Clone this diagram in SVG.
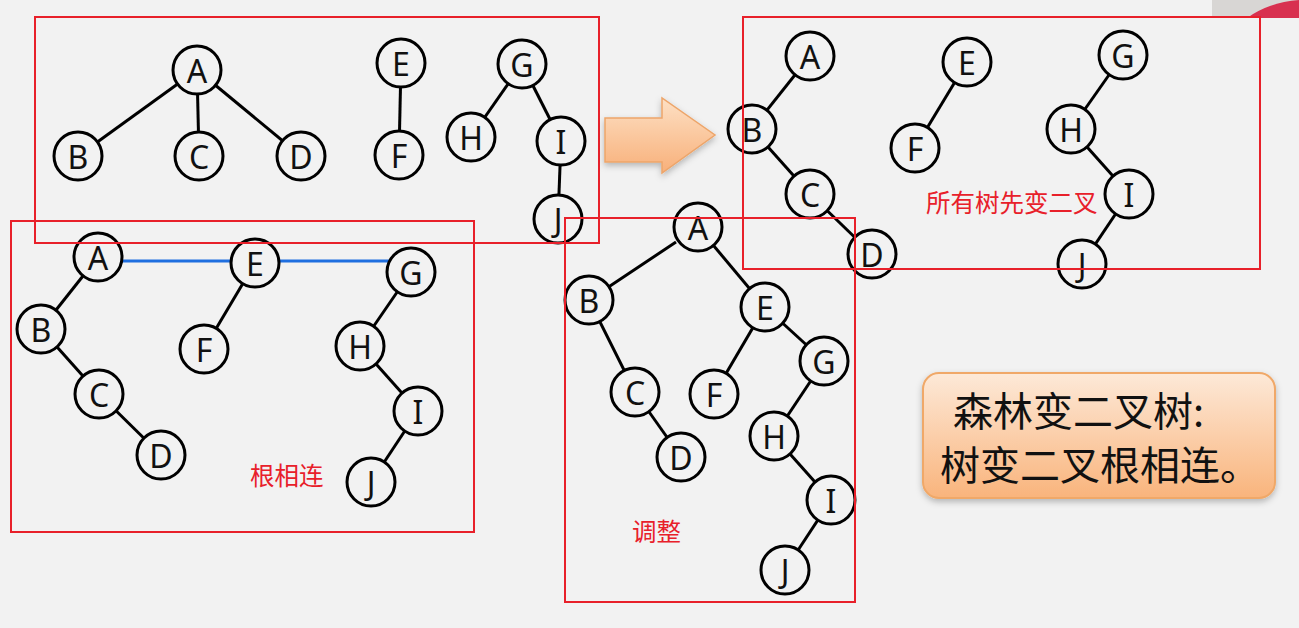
<svg xmlns="http://www.w3.org/2000/svg" width="1299" height="628" viewBox="0 0 1299 628">
<style>
.n circle{fill:#f2f2f2;stroke:#000;stroke-width:3}
.n text{font-family:"Noto Sans","Open Sans",sans-serif;font-size:32px;fill:#111;text-anchor:middle;dominant-baseline:central}
.e line{stroke:#000;stroke-width:3}
.e line.b{stroke:#1f6fe0;stroke-width:3}
.box{fill:none;stroke:#e8202a;stroke-width:2}
.lbl{font-family:"Noto Sans CJK SC","Noto Sans",sans-serif;font-size:24.5px;fill:#e8202a}
.big{font-family:"Noto Sans CJK SC","Noto Sans",sans-serif;font-size:40px;fill:#111}
</style>
<defs>
<linearGradient id="og" x1="0" y1="0" x2="0" y2="1"><stop offset="0" stop-color="#fde9d8"/><stop offset="1" stop-color="#f9b47c"/></linearGradient>
<linearGradient id="ag" x1="0" y1="0" x2="0" y2="1"><stop offset="0" stop-color="#fde0c4"/><stop offset="1" stop-color="#f8b07a"/></linearGradient>
<filter id="sh" x="-10%" y="-10%" width="120%" height="130%"><feDropShadow dx="0" dy="3" stdDeviation="3" flood-color="#000" flood-opacity="0.25"/></filter>
</defs>
<rect width="1299" height="628" fill="#f2f2f2"/>
<rect x="1212" y="0" width="87" height="18" fill="#d8d6d4"/>
<path d="M1247,18 Q1270,2 1299,0 L1299,18 Z" fill="#d8304f"/>
<g id="connectors" class="e">
<line x1="197" y1="70" x2="78" y2="156"/><line x1="197" y1="70" x2="199" y2="156"/><line x1="197" y1="70" x2="301" y2="156"/>
<line x1="401" y1="63" x2="399" y2="155"/><line x1="522" y1="64" x2="471" y2="137"/><line x1="522" y1="64" x2="561" y2="141"/><line x1="561" y1="141" x2="558" y2="219"/>
<line x1="98" y1="257" x2="41" y2="329"/><line x1="41" y1="329" x2="99" y2="394"/><line x1="99" y1="394" x2="161" y2="455"/>
<line x1="255" y1="263" x2="204" y2="349"/><line x1="411" y1="272" x2="360" y2="346"/><line x1="360" y1="346" x2="418" y2="411"/><line x1="418" y1="411" x2="371" y2="482"/>
<line class="b" x1="122" y1="261" x2="232" y2="261"/><line class="b" x1="278" y1="261" x2="390" y2="261"/>
<line x1="676" y1="242" x2="598" y2="294"/><line x1="698" y1="227" x2="765" y2="307"/><line x1="589" y1="300" x2="635" y2="392"/><line x1="635" y1="392" x2="681" y2="457"/>
<line x1="765" y1="307" x2="714" y2="394"/><line x1="765" y1="307" x2="824" y2="361"/><line x1="824" y1="361" x2="774" y2="436"/><line x1="774" y1="436" x2="831" y2="500"/><line x1="831" y1="500" x2="785" y2="570"/>
<line x1="810" y1="56" x2="752" y2="129"/><line x1="752" y1="129" x2="810" y2="194"/><line x1="810" y1="194" x2="872" y2="254"/>
<line x1="967" y1="62" x2="915" y2="148"/><line x1="1123" y1="55" x2="1071" y2="129"/><line x1="1071" y1="129" x2="1129" y2="194"/><line x1="1129" y1="194" x2="1082" y2="264"/>
</g>
<g id="t1-A" class="n"><circle cx="197" cy="70" r="24"/><text x="197" y="70">A</text></g>
<g id="t1-B" class="n"><circle cx="78" cy="156" r="24"/><text x="78" y="156">B</text></g>
<g id="t1-C" class="n"><circle cx="199" cy="156" r="24"/><text x="199" y="156">C</text></g>
<g id="t1-D" class="n"><circle cx="301" cy="156" r="24"/><text x="301" y="156">D</text></g>
<g id="t1-E" class="n"><circle cx="401" cy="63" r="24"/><text x="401" y="63">E</text></g>
<g id="t1-F" class="n"><circle cx="399" cy="155" r="24"/><text x="399" y="155">F</text></g>
<g id="t1-G" class="n"><circle cx="522" cy="64" r="24"/><text x="522" y="64">G</text></g>
<g id="t1-H" class="n"><circle cx="471" cy="137" r="24"/><text x="471" y="137">H</text></g>
<g id="t1-I" class="n"><circle cx="561" cy="141" r="24"/><text x="561" y="141">I</text></g>
<g id="t1-J" class="n"><circle cx="558" cy="219" r="24"/><text x="558" y="219">J</text></g>
<g id="t2-A" class="n"><circle cx="98" cy="257" r="24"/><text x="98" y="257">A</text></g>
<g id="t2-B" class="n"><circle cx="41" cy="329" r="24"/><text x="41" y="329">B</text></g>
<g id="t2-C" class="n"><circle cx="99" cy="394" r="24"/><text x="99" y="394">C</text></g>
<g id="t2-D" class="n"><circle cx="161" cy="455" r="24"/><text x="161" y="455">D</text></g>
<g id="t2-E" class="n"><circle cx="255" cy="263" r="24"/><text x="255" y="263">E</text></g>
<g id="t2-F" class="n"><circle cx="204" cy="349" r="24"/><text x="204" y="349">F</text></g>
<g id="t2-G" class="n"><circle cx="411" cy="272" r="24"/><text x="411" y="272">G</text></g>
<g id="t2-H" class="n"><circle cx="360" cy="346" r="24"/><text x="360" y="346">H</text></g>
<g id="t2-I" class="n"><circle cx="418" cy="411" r="24"/><text x="418" y="411">I</text></g>
<g id="t2-J" class="n"><circle cx="371" cy="482" r="24"/><text x="371" y="482">J</text></g>
<g id="t3-A" class="n"><circle cx="698" cy="227" r="24"/><text x="698" y="227">A</text></g>
<g id="t3-B" class="n"><circle cx="589" cy="300" r="24"/><text x="589" y="300">B</text></g>
<g id="t3-C" class="n"><circle cx="635" cy="392" r="24"/><text x="635" y="392">C</text></g>
<g id="t3-D" class="n"><circle cx="681" cy="457" r="24"/><text x="681" y="457">D</text></g>
<g id="t3-E" class="n"><circle cx="765" cy="307" r="24"/><text x="765" y="307">E</text></g>
<g id="t3-F" class="n"><circle cx="714" cy="394" r="24"/><text x="714" y="394">F</text></g>
<g id="t3-G" class="n"><circle cx="824" cy="361" r="24"/><text x="824" y="361">G</text></g>
<g id="t3-H" class="n"><circle cx="774" cy="436" r="24"/><text x="774" y="436">H</text></g>
<g id="t3-I" class="n"><circle cx="831" cy="500" r="24"/><text x="831" y="500">I</text></g>
<g id="t3-J" class="n"><circle cx="785" cy="570" r="24"/><text x="785" y="570">J</text></g>
<g id="t4-A" class="n"><circle cx="810" cy="56" r="24"/><text x="810" y="56">A</text></g>
<g id="t4-B" class="n"><circle cx="752" cy="129" r="24"/><text x="752" y="129">B</text></g>
<g id="t4-C" class="n"><circle cx="810" cy="194" r="24"/><text x="810" y="194">C</text></g>
<g id="t4-D" class="n"><circle cx="872" cy="254" r="24"/><text x="872" y="254">D</text></g>
<g id="t4-E" class="n"><circle cx="967" cy="62" r="24"/><text x="967" y="62">E</text></g>
<g id="t4-F" class="n"><circle cx="915" cy="148" r="24"/><text x="915" y="148">F</text></g>
<g id="t4-G" class="n"><circle cx="1123" cy="55" r="24"/><text x="1123" y="55">G</text></g>
<g id="t4-H" class="n"><circle cx="1071" cy="129" r="24"/><text x="1071" y="129">H</text></g>
<g id="t4-I" class="n"><circle cx="1129" cy="194" r="24"/><text x="1129" y="194">I</text></g>
<g id="t4-J" class="n"><circle cx="1082" cy="264" r="24"/><text x="1082" y="264">J</text></g>
<g id="boxes">
<rect class="box" x="35" y="17" width="564" height="226"/>
<rect class="box" x="11" y="221" width="463" height="311"/>
<rect class="box" x="565" y="218" width="290" height="384"/>
<rect class="box" x="743" y="17" width="517" height="252"/>
</g>
<text class="lbl" x="250" y="485">根相连</text>
<text class="lbl" x="632" y="541">调整</text>
<text class="lbl" x="926" y="212">所有树先变二叉</text>
<g id="arrow"><path d="M605,118 L662,118 L662,98 L715,135 L662,173 L662,162 L605,162 Z" fill="url(#ag)" stroke="#eda56a" stroke-width="1.5" filter="url(#sh)"/></g>
<g id="note">
<rect x="923" y="373" width="352" height="125" rx="16" fill="url(#og)" stroke="#f0a868" stroke-width="2" filter="url(#sh)"/>
<text class="big" x="953" y="426">森林变二叉树:</text>
<text class="big" x="940" y="480">树变二叉根相连。</text>
</g>
</svg>
